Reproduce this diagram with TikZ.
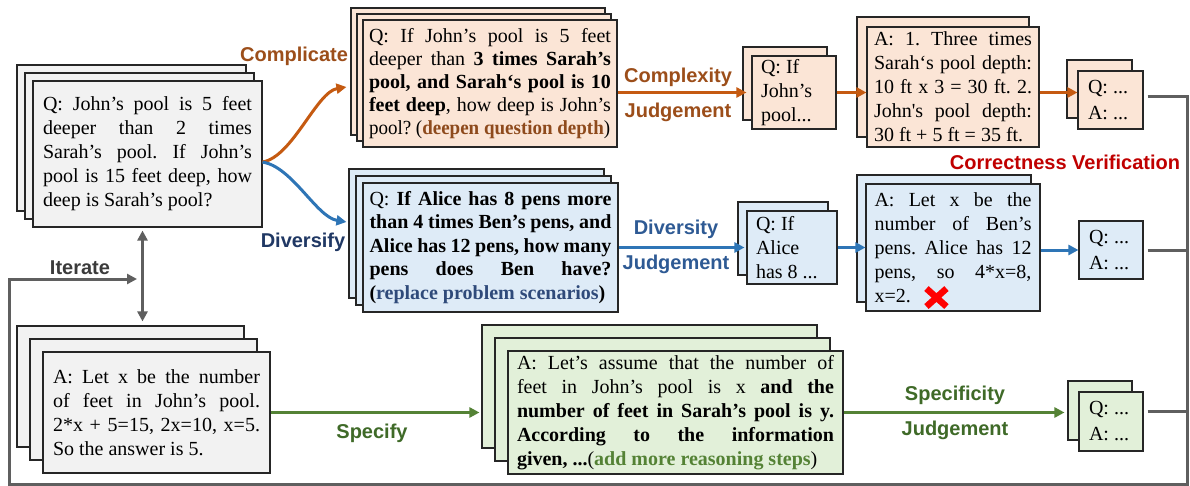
\documentclass[tikz,border=0pt]{standalone}
\usepackage{fontspec}
\setmainfont{Liberation Serif}
\setsansfont{Liberation Sans}
\usepackage{graphicx}
\usetikzlibrary{arrows.meta,shadows,calc}
\definecolor{cgray}{HTML}{F2F2F2}
\definecolor{corg}{HTML}{FBE5D6}
\definecolor{cblu}{HTML}{DEEBF7}
\definecolor{cgrn}{HTML}{E2F0D9}
\definecolor{aorg}{HTML}{C55A11}
\definecolor{ablu}{HTML}{2E75B6}
\definecolor{agrn}{HTML}{548235}
\definecolor{lorg}{HTML}{9C4E1A}
\definecolor{lnavy}{HTML}{203864}
\definecolor{lblu}{HTML}{2E5A94}
\definecolor{lgrn}{HTML}{3F6A28}
\definecolor{tgrn}{HTML}{548235}
\definecolor{tnavy}{HTML}{2F4A7A}
\definecolor{tbrn}{HTML}{8E4A1C}
\definecolor{cred}{HTML}{C00000}
\definecolor{glc}{HTML}{5F5F5F}
\definecolor{bord}{HTML}{262626}
\definecolor{ldark}{HTML}{3B3B3B}
\newcommand\sps{\spaceskip=.25em plus 3em minus .09em\xspaceskip=\spaceskip\relax}
\newcommand\jl[1]{\makebox[\hsize][s]{\sps #1}}
\newcommand\fl[1]{\makebox[\hsize][l]{\sps #1}}
\frenchspacing
\begin{document}
\begin{tikzpicture}[x=1pt,y=-1pt,
  box/.style={draw=bord, line width=1.1pt, inner ysep=0pt, font=\fontsize{20}{24}\selectfont\frenchspacing},
  sh/.style 2 args={copy shadow={shadow xshift=-#1pt, shadow yshift=#1pt, fill=#2, draw=bord, line width=1.1pt}},
  lab/.style={font=\sffamily\bfseries\fontsize{20}{24}\selectfont, inner sep=0pt},
  tipa/.style={-{Triangle[length=10pt,width=10pt]}},
  arrO/.style={draw=aorg, line width=3pt, tipa},
  arrB/.style={draw=ablu, line width=3pt, tipa},
  arrG/.style={draw=agrn, line width=3pt, tipa},
  gl/.style={draw=glc, line width=3pt}
]
\useasboundingbox[fill=white] (0,0) rectangle (1190,486);

% ---- left gray boxes
\node[box, fill=cgray, sh={16}{cgray}, sh={8}{cgray}, text width=209pt, inner xsep=10pt, minimum height=146pt] (qL) at (147.5,154)
{\jl{Q: John’s pool is 5 feet}\\
\jl{deeper than 2 times}\\
\jl{Sarah’s pool. If John’s}\\
\jl{pool is 15 feet deep, how}\\
\fl{deep is Sarah’s pool?}};

\node[box, fill=cgray, sh={26}{cgray}, sh={13}{cgray}, text width=207pt, inner xsep=10pt, minimum height=121pt] (aL) at (156.5,412.5)
{\jl{A: Let x be the number}\\
\jl{of feet in John’s pool.}\\
\jl{2*x + 5=15, 2x=10, x=5.}\\
\fl{So the answer is 5.}};

% ---- orange row
\node[box, fill=corg, sh={12}{corg}, sh={6}{corg}, font=\fontsize{20}{23}\selectfont, text width=242pt, inner xsep=6pt, minimum height=127pt] (qC) at (490,83.5)
{\jl{Q: If John’s pool is 5 feet}\\
\jl{deeper than \textbf{3 times Sarah’s}}\\
\jl{\textbf{pool, and Sarah‘s pool is 10}}\\
\jl{\textbf{feet deep}, how deep is John’s}\\
\fl{\scalebox{0.95}[1]{\sps pool? (\textcolor{tbrn}{\textbf{deepen question depth}})}}};

\node[box, fill=corg, sh={9}{corg}, text width=66pt, inner xsep=9pt, minimum height=73pt] (qCs) at (794,92.5)
{\fl{Q: If}\\ \fl{John’s}\\ \fl{pool...}};

\node[box, fill=corg, sh={10}{corg}, text width=158pt, inner xsep=7pt, minimum height=120pt] (aC) at (953,87)
{\jl{A: 1. Three times}\\
\jl{Sarah‘s pool depth:}\\
\jl{10 ft x 3 = 30 ft. 2.}\\
\jl{John\textquotesingle s pool depth:}\\
\fl{30 ft + 5 ft = 35 ft.}};

\node[box, fill=corg, sh={11}{corg}, font=\fontsize{20}{26}\selectfont, text width=45pt, inner xsep=10pt, minimum height=58pt] (qaC) at (1110.5,100)
{\fl{Q: ...}\\ \fl{A: ...}};

% ---- blue row
\node[box, fill=cblu, sh={14}{cblu}, sh={7}{cblu}, font=\fontsize{20}{23.5}\selectfont, text width=242pt, inner xsep=6.5pt, minimum height=129pt] (qD) at (490.5,247.5)
{\jl{Q: \textbf{If Alice has 8 pens more}}\\
\jl{\textbf{than 4 times Ben’s pens, and}}\\
\jl{\textbf{Alice has 12 pens, how many}}\\
\jl{\textbf{pens does Ben have?}}\\
\fl{\textbf{(\textcolor{tnavy}{replace problem scenarios})}}};

\node[box, fill=cblu, sh={9}{cblu}, text width=72pt, inner xsep=9pt, minimum height=73pt] (qDs) at (792,247.5)
{\fl{Q: If}\\ \fl{Alice}\\ \fl{has 8 ...}};

\node[box, fill=cblu, sh={9}{cblu}, text width=157pt, inner xsep=8.5pt, minimum height=127pt] (aD) at (953,247.5)
{\jl{A: Let x be the}\\
\jl{number of Ben’s}\\
\jl{pens. Alice has 12}\\
\jl{pens, so 4*x=8,}\\
\fl{x=2.}};

\node[box, fill=cblu, font=\fontsize{20}{26}\selectfont, text width=44pt, inner xsep=10pt, minimum height=58pt] (qaD) at (1111,250)
{\fl{Q: ...}\\ \fl{A: ...}};

% ---- green row
\node[box, fill=cgrn, sh={26}{cgrn}, sh={13}{cgrn}, text width=317pt, inner xsep=9pt, minimum height=123pt] (aSp) at (675.5,412.5)
{\jl{A: Let’s assume that the number of}\\
\jl{feet in John’s pool is x \textbf{and the}}\\
\jl{\textbf{number of feet in Sarah’s pool is y.}}\\
\jl{\textbf{According to the information}}\\
\fl{\textbf{given, ...}(\textcolor{tgrn}{\textbf{add more reasoning steps}})}};

\node[box, fill=cgrn, sh={11}{cgrn}, font=\fontsize{20}{26}\selectfont, text width=44pt, inner xsep=10pt, minimum height=59pt] (qaS) at (1111,421.5)
{\fl{Q: ...}\\ \fl{A: ...}};

% ---- labels
\node[lab, text=lorg] (lcomp) at (294,56) {Complicate};
\node[lab, text=lnavy] (ldiv) at (303,242) {Diversify};
\node[lab, text=lorg] (lcj1) at (678,77) {Complexity};
\node[lab, text=lorg] (lcj2) at (678,112) {Judgement};
\node[lab, text=lblu] (ldj1) at (676,229) {Diversity};
\node[lab, text=lblu] (ldj2) at (676,264) {Judgement};
\node[lab, text=cred] (lcv) at (1065,162) {Correctness Verification};
\node[lab, text=ldark] (lit) at (80,268) {Iterate};
\node[lab, text=lgrn] (lsp) at (372,433) {Specify};
\node[lab, text=lgrn] (lsj1) at (955,395) {Specificity};
\node[lab, text=lgrn] (lsj2) at (955,430) {Judgement};

% ---- arrows
\draw[arrO] ([yshift=-8pt]qL.east) .. controls +(30,-5) and +(-30,5) .. ([xshift=-16pt,yshift=-3.5pt]qC.west);
\draw[arrB] ([yshift=-8pt]qL.east) .. controls +(30,5) and +(-30,-5) .. ([xshift=-16pt,yshift=25.5pt]qD.west);
\draw[arrO] (qC.east |- qCs.west) -- ([xshift=-5pt]qCs.west);
\draw[arrO] (qCs.east) -- (aC.west |- qCs.east);
\draw[arrO] (aC.east |- qCs.east) -- (qaC.west |- qCs.east);
\draw[arrB] (qD.east |- qDs.west) -- ([xshift=-2pt]qDs.west);
\draw[arrB] (qDs.east) -- (aD.west |- qDs.east);
\draw[arrB] (aD.east |- qaD.west) -- (qaD.west);
\draw[arrG] (aL.east) -- ([xshift=-28pt]aSp.west);
\draw[arrG] (aSp.east) -- ([xshift=-14pt]qaS.west |- aSp.east);

% ---- loop
\coordinate (br) at (1187,484);
\coordinate (bl) at (9,484);
\coordinate (it) at (137,279);
\draw[gl, tipa] ([xshift=4pt,yshift=3pt]qaC.east) -| (br) -- (bl) |- (it);
\draw[gl] ([xshift=4pt]qaD.east) -- (qaD.east -| br);
\draw[gl] ([xshift=4pt,yshift=10pt]qaS.east) coordinate (s0) -- (s0 -| br);
\draw[gl, {Triangle[length=10pt,width=10pt]}-{Triangle[length=10pt,width=10pt]}] ([xshift=-5pt,yshift=-3pt]qL.south) -- ([xshift=-14pt,yshift=30pt]aL.north);

% ---- red cross
\coordinate (xc) at ($(aD.south west)+(71,-14)$);
\draw[red, line width=6.5pt] ($(xc)+(-10,-9)$) -- ($(xc)+(10,9)$) ($(xc)+(-10,9)$) -- ($(xc)+(10,-9)$);
\end{tikzpicture}
\end{document}
